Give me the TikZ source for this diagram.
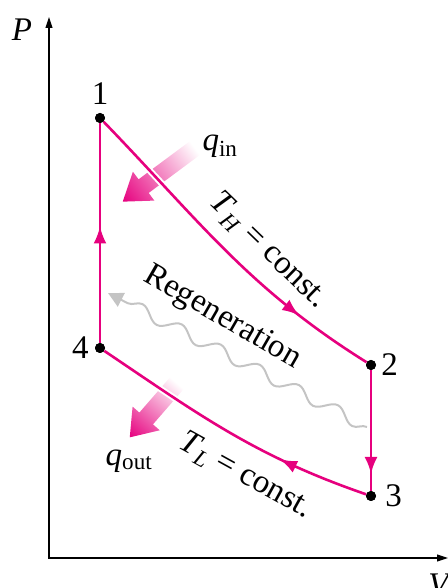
\documentclass[tikz,border=0pt]{standalone}
\usepackage{fontspec}
\setmainfont{Liberation Serif}
\usetikzlibrary{arrows.meta,positioning,decorations.markings,decorations.pathmorphing}
\newcommand{\qin}{\textit{q}\textsubscript{in}}
\newcommand{\qout}{\textit{q}\textsubscript{out}}
\newcommand{\isoH}{\textit{T}\textsubscript{\textit{H}} = const.}
\newcommand{\isoL}{\textit{T}\textsubscript{\textit{L}} = const.}
\definecolor{cyclepink}{HTML}{E6007E}
\definecolor{regengray}{HTML}{C4C4C4}
\tikzset{
  axis/.style={line width=1.1pt, {Triangle[length=11pt,width=7pt]}-{Triangle[length=11pt,width=7pt]}},
  state/.style={circle, fill=black, inner sep=0pt, minimum size=10pt},
  txt/.style={font=\fontsize{33}{38}\selectfont, inner sep=0pt},
  process/.style={line width=2.6pt, cyclepink},
  midarrow/.style={postaction={decorate}, decoration={markings, mark=at position #1 with {\arrow{Latex[length=17pt,width=13pt]}}}},
  gap/.style={preaction={draw=white, line width=6.5pt}},
  regen/.style={draw=regengray, line width=2pt, -{Triangle[length=15pt,width=15pt]}, decorate, decoration={snake, amplitude=6pt, segment length=44pt, post length=16pt}},
  heat/.style={left color=white, right color=cyclepink}
}
\begin{document}
\begin{tikzpicture}[x=1pt, y=1pt]
  \useasboundingbox (0,0) rectangle (447,588);
  % axes
  \coordinate (orig) at (49,30);
  \coordinate (ptop) at (49,571);
  \coordinate (vend) at (448,30);
  \draw[axis] (ptop) -- (orig) -- (vend);
  \node[txt] (plab) at (22,558) {\textit{P}};
  \node[txt] (vlab) at (440,3) {\textit{V}};
  % heat arrows
  \begin{scope}[transform canvas={shift={(195,440)}, rotate=216.6}]
    \shade[heat] (0,-8.5) -- (64,-8.5) -- (64,-18) -- (90,0) -- (64,18) -- (64,8.5) -- (0,8.5) -- cycle;
  \end{scope}
  \begin{scope}[transform canvas={shift={(177,205)}, rotate=229}]
    \shade[heat] (0,-9) -- (47,-9) -- (47,-18) -- (72,0) -- (47,18) -- (47,9) -- (0,9) -- cycle;
  \end{scope}
  \node[txt] (qinlab) at (220,442) {\qin};
  \node[txt] (qoutlab) at (129,127) {\qout};
  % states
  \node[state] (p1) at (100,470) {};
  \node[state] (p2) at (371,223) {};
  \node[state] (p3) at (371,92) {};
  \node[state] (p4) at (100,240) {};
  \node[txt, above=8pt of p1] (n1) {1};
  \node[txt, right=5pt of p2] (n2) {2};
  \node[txt, right=9pt of p3] (n3) {3};
  \node[txt, left=6pt of p4] (n4) {4};
  % regeneration
  \coordinate (rg-start) at (367,161);
  \coordinate (rg-end) at (108,295);
  \draw[regen] (rg-start) -- (rg-end);
  \node[txt, rotate=-30] (rglab) at (222,270) {Regeneration};
  % cycle
  \draw[process, gap, midarrow=0.77] (p1) to[out=-46, in=148] (p2);
  \draw[process, gap, midarrow=0.31] (p3) to[out=161, in=-34] (p4);
  \draw[process, midarrow=0.86] (p2) -- (p3);
  \draw[process, midarrow=0.53] (p4) -- (p1);
  \node[state] at (p1) {};
  \node[state] at (p2) {};
  \node[state] at (p3) {};
  \node[state] at (p4) {};
  \node[txt, rotate=-44] (thlab) at (268,337) {\isoH};
  \node[txt, rotate=-29] (tllab) at (245,112) {\isoL};
\end{tikzpicture}
\end{document}
